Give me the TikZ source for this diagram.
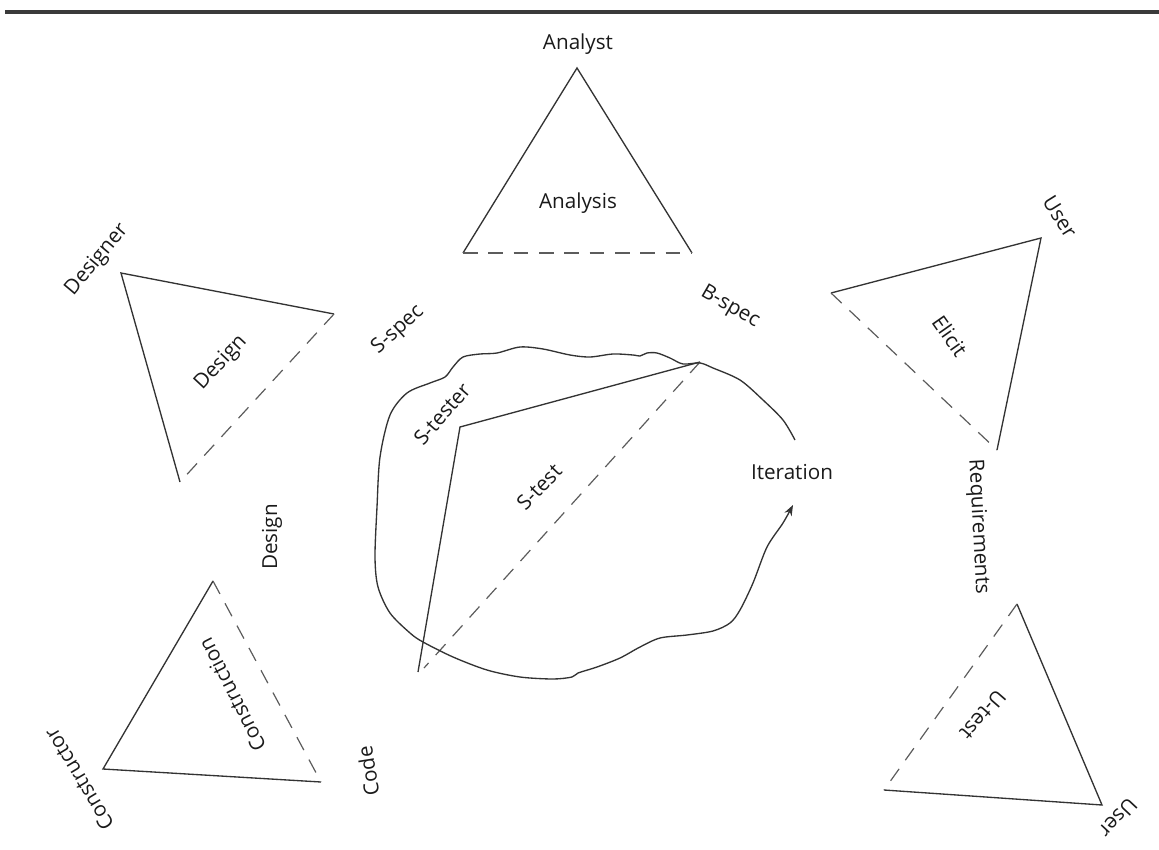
\documentclass[tikz,border=0pt]{standalone}
\usepackage{fontspec}
\setmainfont{Open Sans}
\usetikzlibrary{arrows.meta}
\definecolor{ink}{HTML}{333333}
\definecolor{txt}{HTML}{1A1A1A}
\definecolor{rulecol}{HTML}{3A3A3A}
\begin{document}
\begin{tikzpicture}[x=0.75pt,y=-0.75pt,
  edge/.style={draw=ink,line width=1pt,line join=miter},
  hidden/.style={draw=ink!80,line width=0.9pt,dash pattern=on 11pt off 8pt},
  lbl/.style={inner sep=0pt,text=txt,font=\fontsize{15.5}{18}\selectfont},
  loopline/.style={draw=ink,line width=1pt,-{Stealth[length=8pt,width=6pt]}},
]
\useasboundingbox (0,0) rectangle (1159,849);

% heading rule
\coordinate (r1) at (5,12);
\coordinate (r2) at (1159,12);
\draw[line width=2.4pt,draw=rulecol] (r1) -- (r2);

% analysis triangle
\coordinate (A1) at (577,68);
\coordinate (A2) at (463,253);
\coordinate (A3) at (692,253);
\draw[edge] (A2) -- (A1) -- (A3);
\draw[hidden] (A2) -- (A3);
\node[lbl] (analyst) at (578,44) {Analyst};
\node[lbl] (analysis) at (578,203) {Analysis};

% design triangle
\coordinate (D1) at (121,273);
\coordinate (D2) at (334,314);
\coordinate (D3) at (180,482);
\draw[edge] (D3) -- (D1) -- (D2);
\draw[hidden] (D2) -- (D3);
\node[lbl,rotate=50] (designer) at (97,260) {Designer};
\node[lbl,rotate=47] (design) at (221,363) {Design};
\node[lbl,rotate=42] (sspec) at (398,330) {S-spec};

% elicit triangle
\coordinate (E1) at (831,293);
\coordinate (E2) at (1041,238);
\coordinate (E3) at (997,450);
\draw[edge] (E1) -- (E2) -- (E3);
\draw[hidden] (E1) -- (E3);
\node[lbl,rotate=-30] (bspec) at (730,307) {B-spec};
\node[lbl,rotate=-58] (user1) at (1060,217) {User};
\node[lbl,rotate=-55] (elicit) at (950,336) {Elicit};
\node[lbl,rotate=-87] (req) at (978,527) {Requirements};

% construction triangle
\coordinate (C1) at (213,581);
\coordinate (C2) at (103,769);
\coordinate (C3) at (321,782);
\draw[edge] (C1) -- (C2) -- (C3);
\draw[hidden] (C1) -- (C3);
\node[lbl,rotate=90] (design2) at (272,537) {Design};
\node[lbl,rotate=117] (construction) at (232,695) {Construction};
\node[lbl,rotate=121] (constructor) at (79,779) {Constructor};
\node[lbl,rotate=99] (code) at (368,771) {Code};

% user test triangle
\coordinate (U1) at (1017,604);
\coordinate (U2) at (884,790);
\coordinate (U3) at (1102,805);
\draw[edge] (U1) -- (U3) -- (U2);
\draw[hidden] (U1) -- (U2);
\node[lbl,rotate=229] (utest) at (983,715) {U-test};
\node[lbl,rotate=227] (user2) at (1118,818) {User};

% system test triangle
\coordinate (S1) at (418,672);
\coordinate (S2) at (460,427);
\coordinate (S3) at (700,362);
\coordinate (S1d) at (424,668);
\draw[edge] (S1) -- (S2) -- (S3);
\draw[hidden] (S3) -- (S1d);
\node[lbl,rotate=49] (stester) at (442,414) {S-tester};
\node[lbl,rotate=46] (stest) at (539,487) {S-test};

% iteration loop
\node[lbl] (iter) at (792,472) {Iteration};
\coordinate (loopstart) at (795,440);
\coordinate (loopend) at (793,505);
\draw[loopline] plot[smooth,tension=0.5] coordinates {
  (loopstart) (783,420) (763,400) (740,380) (713,368) (700,363) (683,364)
  (670,358) (657,353) (647,353) (640,356) (633,355) (613,354) (590,357)
  (570,355) (543,349) (520,347) (497,353) (480,354) (463,357) (453,367)
  (445,377) (430,383) (407,393) (390,415) (380,457) (377,507) (375,557)
  (378,587) (390,613) (410,633) (423,642) (453,657) (487,670) (520,677)
  (553,679) (572,677) (578,673) (597,667) (620,658) (640,647) (660,638)
  (687,635) (713,631) (730,623) (740,610) (753,583) (767,547) (783,523)
  (loopend)};
\end{tikzpicture}
\end{document}
